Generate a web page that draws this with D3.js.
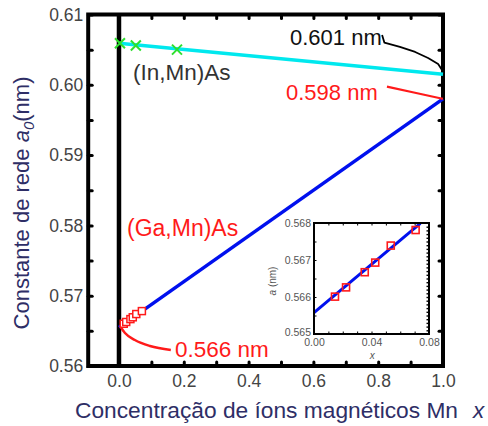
<!DOCTYPE html>
<html><head><meta charset="utf-8">
<script src="https://cdn.jsdelivr.net/npm/d3@7"></script>
<style>
html,body{margin:0;padding:0;background:#fff;}
svg{display:block;font-family:"Liberation Sans",Arial,sans-serif;}
</style></head>
<body>
<svg id="c" width="488" height="426"></svg>
<script>
// ---- data ----
const xTicks = [0.0, 0.2, 0.4, 0.6, 0.8, 1.0];
const yTicks = [0.56, 0.57, 0.58, 0.59, 0.60, 0.61];
const gaMnX = [0.0146, 0.0223, 0.0353, 0.0426, 0.0534, 0.0707];
const gaMnA = [0.56601, 0.56626, 0.56667, 0.56693, 0.56739, 0.56781];
const inMnX = [0.003, 0.052, 0.179];
const inMnA = [0.6059, 0.6056, 0.6050];
const vegardGaX = [0.0, 1.0];
const vegardGaA = [0.5655, 0.5980];
const vegardInX = [0.0, 1.0];
const vegardInA = [0.6059, 0.6015];
const insetFitX = [0.0, 0.074];
const insetFitA = [0.56558, 0.56799];
const insetXTicks = [0.00, 0.04, 0.08];
const insetYTicks = [0.565, 0.566, 0.567, 0.568];
// callout leader lines (data units)
const call601 = [[0.812,0.6071],[0.819,0.6060],[0.867,0.60538],[0.914,0.60467],[0.954,0.60381],[0.985,0.60296],[1.0,0.6019]];
const call598 = [[0.827,0.59975],[0.91,0.5989],[1.0,0.5980]];
const call566 = [[0.005,0.56555],[0.0185,0.56469],[0.049,0.5637],[0.0957,0.56284],[0.16,0.56228]];

const svg = d3.select("#c");
const x = d3.scaleLinear().domain([-0.095, 1]).range([88.2, 443]);
const y = d3.scaleLinear().domain([0.56, 0.61]).range([366, 14.5]);
const line = d3.line().x(d => x(d[0])).y(d => y(d[1]));
const curve = d3.line().curve(d3.curveMonotoneX).x(d => x(d[0])).y(d => y(d[1]));
const zip = (a, b) => a.map((v, i) => [v, b[i]]);

// ticks (inward)
function tickAxis(axis, tr) {
  const g = svg.append("g").attr("transform", tr).call(axis);
  g.select(".domain").remove();
  g.selectAll(".tick line").attr("stroke", "#000").attr("stroke-width", 3).attr("stroke-linecap", "round");
  g.selectAll("text").remove();
  return g;
}
const xMinor = d3.range(0.1, 1.0, 0.1);
tickAxis(d3.axisBottom(x).tickValues(xMinor).tickSizeInner(-4), `translate(0,${y(0.56)})`);
tickAxis(d3.axisTop(x).tickValues(xMinor).tickSizeInner(-4), `translate(0,${y(0.61)})`);
const yMinor = d3.range(0.565, 0.61, 0.01);
tickAxis(d3.axisLeft(y).tickValues(yMinor.concat(yTicks)).tickSizeInner(-4), `translate(${x(-0.095)},0)`);
tickAxis(d3.axisRight(y).tickValues(yMinor.concat(yTicks)).tickSizeInner(-4), `translate(${x(1)},0)`);

// tick labels
const gx = svg.append("g").attr("transform", `translate(0,${y(0.56)})`)
  .call(d3.axisBottom(x).tickValues(xTicks).tickSize(0).tickPadding(9).tickFormat(d3.format(".1f")));
gx.select(".domain").remove();
gx.selectAll("text").attr("font-size", 17.5).attr("fill", "#444").attr("font-family", "Liberation Sans, Arial, sans-serif");
const gy = svg.append("g").attr("transform", `translate(${x(-0.095)},0)`)
  .call(d3.axisLeft(y).tickValues(yTicks).tickSize(0).tickPadding(5).tickFormat(d3.format(".2f")));
gy.select(".domain").remove();
gy.selectAll("text").attr("font-size", 17.5).attr("fill", "#444").attr("font-family", "Liberation Sans, Arial, sans-serif");

// frame and x=0 line
svg.append("rect").attr("x", x(-0.095)).attr("y", y(0.61)).attr("width", x(1) - x(-0.095)).attr("height", y(0.56) - y(0.61))
  .attr("fill", "none").attr("stroke", "#000").attr("stroke-width", 4);
svg.append("line").attr("x1", x(0)).attr("x2", x(0)).attr("y1", y(0.61)).attr("y2", y(0.56))
  .attr("stroke", "#000").attr("stroke-width", 4.5);

// lines
svg.append("path").attr("d", line(zip(vegardInX, vegardInA))).attr("stroke", "#00e8ee").attr("stroke-width", 3.5).attr("fill", "none");
svg.append("path").attr("d", line(zip(vegardGaX, vegardGaA))).attr("stroke", "#0010ee").attr("stroke-width", 3.5).attr("fill", "none");

// callouts
svg.append("path").attr("d", line(call601)).attr("stroke", "#000").attr("stroke-width", 1.8).attr("fill", "none").attr("stroke-linejoin", "round");
svg.append("path").attr("d", curve(call598)).attr("stroke", "#ff1a1a").attr("stroke-width", 2.2).attr("fill", "none");
svg.append("path").attr("d", curve(call566)).attr("stroke", "#ff1a1a").attr("stroke-width", 2.5).attr("fill", "none");

// markers main
const sq = 7;
svg.append("g").selectAll("rect").data(zip(gaMnX, gaMnA)).join("rect")
  .attr("x", d => x(d[0]) - sq / 2).attr("y", d => y(d[1]) - sq / 2).attr("width", sq).attr("height", sq)
  .attr("fill", "#fff").attr("stroke", "#ff1a1a").attr("stroke-width", 1.5);
const cs = 5;
svg.append("g").selectAll("path").data(zip(inMnX, inMnA)).join("path")
  .attr("d", d => `M${x(d[0]) - cs},${y(d[1]) - cs}L${x(d[0]) + cs},${y(d[1]) + cs}M${x(d[0]) - cs},${y(d[1]) + cs}L${x(d[0]) + cs},${y(d[1]) - cs}`)
  .attr("stroke", "#2ee02e").attr("stroke-width", 2).attr("fill", "none");

// text labels
const lbl = (t, xx, yy, col, fs) => svg.append("text").attr("x", xx).attr("y", yy).attr("fill", col).attr("font-size", fs).text(t);
lbl("0.601 nm", 290, 45, "#111", 22);
lbl("(In,Mn)As", 133, 80, "#333", 22.5);
lbl("0.598 nm", 286, 100, "#ff1a1a", 22);
lbl("(Ga,Mn)As", 127, 236, "#ff1a1a", 23);
lbl("0.566 nm", 175, 357, "#ff1a1a", 22.5);

// axis titles
const tc = "#2e2e66";
const xt = svg.append("text").attr("x", 75).attr("y", 418).attr("fill", tc).attr("font-size", 22.5);
xt.append("tspan").attr("textLength", 383).attr("lengthAdjust", "spacingAndGlyphs").text("Concentração de íons magnéticos Mn");
svg.append("text").attr("x", 473).attr("y", 418).attr("fill", tc).attr("font-size", 22.5).attr("font-style", "italic").text("x");
const yt = svg.append("text").attr("transform", "translate(29,203) rotate(-90)").attr("text-anchor", "middle")
  .attr("fill", tc).attr("font-size", 22);
yt.append("tspan").text("Constante de rede ");
yt.append("tspan").attr("font-style", "italic").text("a");
yt.append("tspan").attr("font-style", "italic").attr("font-size", 15).attr("dy", 5).text("0");
yt.append("tspan").attr("dy", -5).text("(nm)");

// ---- inset ----
const xi = d3.scaleLinear().domain([0, 0.08]).range([314, 429]);
const yi = d3.scaleLinear().domain([0.565, 0.568]).range([334, 223]);
svg.append("rect").attr("x", xi(0)).attr("y", yi(0.568)).attr("width", xi(0.08) - xi(0)).attr("height", yi(0.565) - yi(0.568))
  .attr("fill", "#fff").attr("stroke", "none");
const ia = (axis, tr, w) => {
  const g = svg.append("g").attr("transform", tr).call(axis);
  g.select(".domain").remove();
  g.selectAll("text").remove();
  g.selectAll(".tick line").attr("stroke", "#000").attr("stroke-width", w);
};
ia(d3.axisRight(yi).tickValues(d3.range(0.5651, 0.568, 0.0001)).tickSizeInner(-2.5), `translate(${xi(0.08)},0)`, 1.4);
ia(d3.axisLeft(yi).tickValues(d3.range(0.5655, 0.568, 0.0005)).tickSizeInner(-2.5), `translate(${xi(0)},0)`, 1);
ia(d3.axisTop(xi).tickValues(d3.range(0.01, 0.08, 0.01)).tickSizeInner(-2.5), `translate(0,${yi(0.568)})`, 1);
ia(d3.axisBottom(xi).tickValues(d3.range(0.01, 0.08, 0.01)).tickSizeInner(-2.5), `translate(0,${yi(0.565)})`, 1);

const gix = svg.append("g").attr("transform", `translate(0,${yi(0.565)})`)
  .call(d3.axisBottom(xi).tickValues(insetXTicks).tickSize(0).tickPadding(5).tickFormat(d3.format(".2f")));
gix.select(".domain").remove();
gix.selectAll("text").attr("font-size", 10.5).attr("fill", "#555").attr("font-family", "Liberation Sans, Arial, sans-serif");
const giy = svg.append("g").attr("transform", `translate(${xi(0) - 1},0)`)
  .call(d3.axisLeft(yi).tickValues(insetYTicks).tickSize(0).tickPadding(2).tickFormat(d3.format(".3f")));
giy.select(".domain").remove();
giy.selectAll("text").attr("font-size", 10.5).attr("fill", "#555").attr("font-family", "Liberation Sans, Arial, sans-serif");
giy.selectAll(".tick").filter(d => d === 0.565).select("text").attr("dy", "0.1em");

svg.append("path").attr("d", d3.line().x(d => xi(d[0])).y(d => yi(d[1]))(zip(insetFitX, insetFitA)))
  .attr("stroke", "#0010ee").attr("stroke-width", 3).attr("fill", "none");
svg.append("g").selectAll("rect").data(zip(gaMnX, gaMnA)).join("rect")
  .attr("x", d => xi(d[0]) - sq / 2).attr("y", d => yi(d[1]) - sq / 2).attr("width", sq).attr("height", sq)
  .attr("fill", "none").attr("stroke", "#ff1a1a").attr("stroke-width", 1.6);
svg.append("rect").attr("x", xi(0)).attr("y", yi(0.568)).attr("width", xi(0.08) - xi(0)).attr("height", yi(0.565) - yi(0.568))
  .attr("fill", "none").attr("stroke", "#000").attr("stroke-width", 2);

svg.append("text").attr("x", xi(0.0405)).attr("y", 359).attr("text-anchor", "middle").attr("font-size", 10)
  .attr("font-style", "italic").attr("fill", "#555").text("x");
const iyt = svg.append("text").attr("transform", "translate(276,281) rotate(-90)").attr("text-anchor", "middle")
  .attr("font-size", 10).attr("fill", "#555");
iyt.append("tspan").attr("font-style", "italic").text("a");
iyt.append("tspan").text(" (nm)");
</script>
</body></html>
